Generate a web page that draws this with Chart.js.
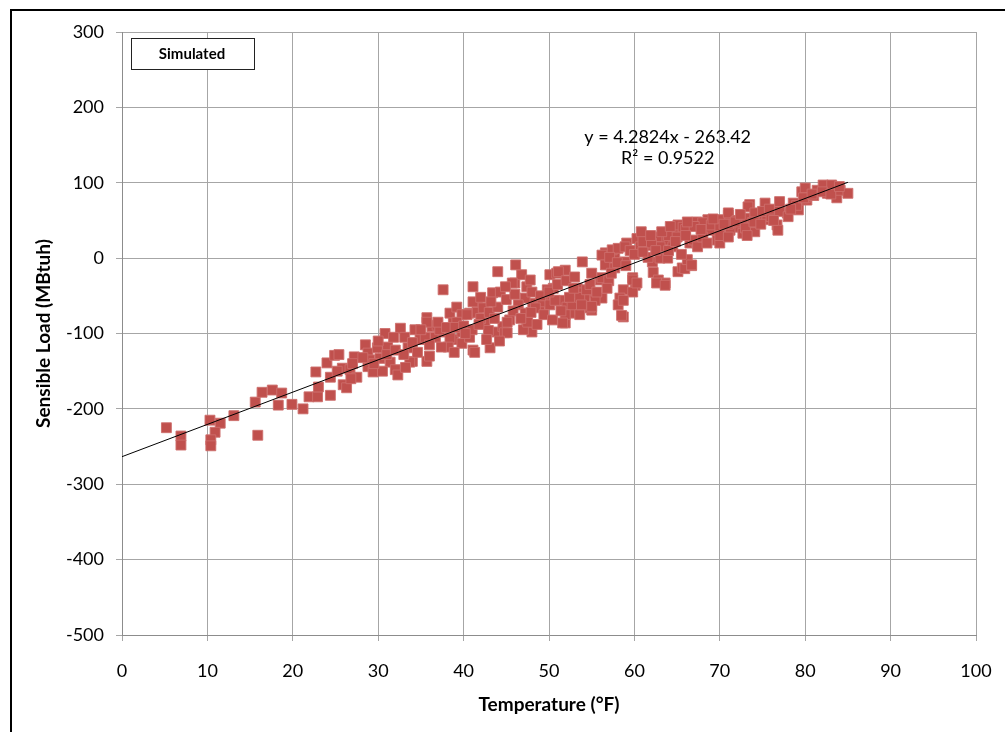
<!DOCTYPE html>
<html>
<head>
<meta charset="utf-8">
<title>Sensible Load vs Temperature</title>
<script src="https://cdn.jsdelivr.net/npm/chart.js@4.4.0/dist/chart.umd.min.js"></script>
<style>
    html, body { margin: 0; padding: 0; background: #fff; }
    #wrap { width: 1005px; height: 732px; position: relative; }
</style>
</head>
<body>
<div id="wrap"><canvas id="chart" width="1005" height="732"></canvas></div>
<script>
// daily points (°F, MBtuh)
const temperature = [
    5.2, 6.9, 6.9, 10.3, 11.5, 10.9, 10.4, 10.4, 13.1, 15.9, 15.6, 16.4, 17.6, 18.7, 18.3, 19.9,
    21.2, 21.9, 22.9, 23, 22.7, 24, 24.4, 24.4, 24.9, 25.4, 25.8, 25.9, 26.3, 27.2, 26.7, 27.5,
    28.5, 28.8, 28.8, 29.4, 29.9, 30.2, 30.8, 31.1, 31.4, 32, 32.3, 32.6, 33.1, 33.5, 34, 34.3,
    34.9, 35.7, 35.7, 36.3, 36.7, 37.6, 38.4, 38.8, 39.2, 39.8, 38.8, 39.8, 40.7, 41.1, 40.7, 41.6,
    37.6, 41.1, 44, 33.7, 36.9, 39.2, 39.8, 40.4, 41.1, 41.6, 41.3, 42.3, 42.5, 43.1, 43.4, 44.3,
    43.9, 44.6, 44.8, 35.7, 35.5, 37.2, 38.4, 38.2, 42.9, 45.4, 46, 46.8, 47.4, 47.4, 48, 47,
    48.1, 48.9, 49.5, 50.1, 50.9, 50.5, 49.8, 51.9, 51.3, 52.1, 52.8, 51.9, 53.3, 54, 54.4, 53.9,
    55, 56, 56.2, 56.6, 57.7, 46.1, 45.7, 47.8, 51.1, 56.2, 57.4, 58.1, 59.1, 60.3, 61.6, 62.8,
    63.9, 65, 56.6, 57.7, 58.9, 56.2, 59.8, 60.1, 58.7, 58.3, 58.1, 58.7, 59.8, 62.1, 62.2, 62.8,
    63.6, 63, 63.9, 65.1, 65.6, 54.2, 55.4, 54.8, 53.3, 52.7, 51.9, 51.6, 53.6, 49.2, 48.4, 47.2,
    46.4, 47.2, 47.5, 45.1, 45.1, 50.1, 50.7, 57.1, 58, 58.9, 60.7, 61.6, 63.8, 63, 64.5, 65.1,
    65.9, 66.5, 67.3, 68, 67.3, 68.6, 69.7, 70, 71, 72, 72.7, 73.5, 74.4, 74.1, 53.6, 54.4,
    55, 58.7, 58.5, 59.8, 60.3, 62.6, 63.6, 65.9, 66.7, 65.7, 66.9, 67.4, 68, 68.9, 70, 71,
    71.2, 73, 73.3, 73.8, 74.1, 75.3, 75.5, 76.7, 76.8, 77, 77.9, 78.6, 79.2, 79.6, 80, 80.2,
    81.4, 82.1, 82.6, 83.1, 83.7, 84.1, 85, 66.2, 66.7,
    61, 62, 64, 66, 67, 69, 70, 71, 72, 73, 74, 75, 76, 77, 78, 79,
    80, 81, 82, 83, 84, 59.5, 60, 61, 64, 65, 66, 68, 70, 71,
    27, 29, 30, 31, 32, 33, 34, 35, 36, 37, 38, 39, 40, 41, 42, 43,
    44, 45, 46, 48, 49, 50, 51, 52, 53, 55, 57, 59,
    40.2, 41.8, 42.7, 43.6, 44.2, 45.8, 46.7, 47.9, 48.6, 49.4, 50.4, 51.4, 52.4, 52.9, 53.8, 54.8,
    55.6, 56.8, 57.3, 44.9, 43.2, 42, 36, 37.4, 38.9, 34.6, 33.2, 31.8, 30.5, 29.5, 28.2, 26.8,
    25.2, 60.8, 61.9, 62.5, 63.2, 64.2, 64.8, 65.5, 66.2, 67.8, 68.5, 69.2, 70.5, 71.8, 72.4, 73.2,
    74.8, 75.8, 76.3, 78.3, 79.8, 80.8
];
const sensibleLoad = [
    -225, -236, -248, -215, -219, -231, -241, -249, -209, -235, -191, -178, -175, -179, -195, -194,
    -200, -184, -184, -171, -151, -139, -158, -182, -129, -128, -146, -168, -172, -131, -148, -158,
    -115, -126, -144, -151, -119, -133, -100, -118, -138, -148, -155, -93, -105, -119, -137, -95,
    -108, -79, -137, -91, -105, -98, -73, -86, -65, -75, -108, -113, -105, -122, -73, -62,
    -42, -38, -18, -138, -89, -85, -98, -75, -58, -72, -125, -66, -85, -119, -46, -45,
    -98, -91, -99, -85, -105, -95, -106, -118, -96, -82, -33, -22, -38, -82, -98, -95,
    -60, -65, -56, -22, -20, -40, -42, -16, -56, -65, -73, -86, -40, -52, -46, -5,
    -69, -29, -53, 7, 2, -9, -33, -29, -18, 4, 11, 13, 20, 26, 17, 28,
    27, 37, -9, -13, -5, -26, -26, -36, -42, -53, -62, -78, -45, -5, -19, -29,
    -33, 0, 0, -18, -13, -53, -56, -66, -46, -62, -75, -86, -75, -58, -66, -53,
    -62, -73, -85, -85, -99, -62, -56, 1, -6, 15, 15, 1, 24, 15, 15, 44,
    33, 20, 48, 33, 20, 51, 24, 20, 57, 41, 33, 71, 55, 35, -52, -42,
    -64, -56, -76, -29, -33, -33, -36, -14, -10, 41, 24, 15, 47, 37, 51, 60,
    37, 53, 68, 47, 60, 73, 51, 44, 37, 75, 60, 73, 64, 88, 93, 77,
    90, 97, 86, 97, 80, 90, 86, -2, -9,
    22, 20, 30, 38, 42, 44, 40, 45, 50, 40, 48, 62, 55, 62, 55, 70,
    80, 83, 88, 85, 95, 10, 5, 8, 10, 28, 30, 28, 30, 28,
    -140, -135, -110, -128, -122, -128, -112, -95, -115, -85, -92, -92, -90, -95, -80, -72,
    -65, -55, -48, -45, -50, -45, -35, -30, -25, -20, -30, -10,
    -100, -88, -108, -80, -110, -70, -80, -72, -88, -75, -82, -70, -52, -40, -62, -35,
    -45, -40, -20, -38, -58, -52, -130, -118, -125, -125, -145, -105, -150, -140, -132, -160,
    -150, 35, 30, 10, 35, 42, 22, 5, 48, 38, 20, 52, 45, 48, 58, 30,
    45, 65, 50, 65, 80, 85
];

const xTicks = [0, 10, 20, 30, 40, 50, 60, 70, 80, 90, 100];
const yTicks = [-500, -400, -300, -200, -100, 0, 100, 200, 300];

// linear trendline from the chart's own fit
const trendSlope = 4.2824;
const trendIntercept = -263.42;
const rSquared = 0.9522;
const trendFrom = 0;
const trendTo = 85;

const FONT = 'Lato, "Open Sans", sans-serif';
const gridColor = '#a6a6a6';

const points = temperature.map((t, i) => ({ x: t, y: sensibleLoad[i] }));
const trendPoints = [trendFrom, trendTo].map(t => ({ x: t, y: trendSlope * t + trendIntercept }));

const decorPlugin = {
    id: 'decor',
    afterDraw(chart) {
        const ctx = chart.ctx;
        const xs = chart.scales.x;
        const ys = chart.scales.y;
        ctx.save();

        // outer frame (only top and left edges fall inside the picture)
        ctx.strokeStyle = '#000';
        ctx.lineWidth = 2;
        ctx.beginPath();
        ctx.moveTo(11, 732);
        ctx.lineTo(11, 10);
        ctx.lineTo(1005, 10);
        ctx.stroke();

        // legend box
        ctx.lineWidth = 1;
        ctx.strokeStyle = '#222';
        ctx.fillStyle = '#fff';
        ctx.fillRect(131.5, 38.5, 123, 31);
        ctx.strokeRect(131.5, 38.5, 123, 31);
        ctx.fillStyle = '#000';
        ctx.font = 'bold 15px ' + FONT;
        ctx.textAlign = 'center';
        ctx.textBaseline = 'middle';
        ctx.fillText(chart.data.datasets[1].label, 192, 54);

        // trendline equation
        const sign = trendIntercept < 0 ? ' - ' : ' + ';
        ctx.font = '18px ' + FONT;
        const cx = xs.getPixelForValue(63.9);
        ctx.fillText('y = ' + trendSlope + 'x' + sign + Math.abs(trendIntercept), cx, ys.getPixelForValue(161));
        ctx.fillText('R² = ' + rSquared, cx, ys.getPixelForValue(132));
        ctx.restore();
    }
};

new Chart(document.getElementById('chart'), {
    type: 'scatter',
    data: {
        datasets: [{
            type: 'line',
            label: 'Linear (Simulated)',
            data: trendPoints,
            borderColor: '#000',
            borderWidth: 1,
            pointRadius: 0,
            fill: false,
            order: 0
        }, {
            label: 'Simulated',
            data: points,
            pointStyle: 'rect',
            pointRadius: 7,
            backgroundColor: '#c0504d',
            borderColor: 'rgba(205,110,107,0.9)',
            borderWidth: 1,
            order: 1
        }]
    },
    options: {
        responsive: false,
        animation: false,
        devicePixelRatio: 1,
        layout: { padding: { top: 32, right: 29, left: 0, bottom: 0 } },
        plugins: {
            legend: { display: false },
            tooltip: { enabled: false }
        },
        scales: {
            x: {
                type: 'linear',
                min: 0,
                max: 100,
                afterBuildTicks: s => { s.ticks = xTicks.map(v => ({ value: v })); },
                afterFit: s => {
                    s.height = 97;
                    s.paddingLeft = 0;
                    s.paddingRight = 0;
                },
                grid: { color: gridColor, tickLength: 6, tickColor: gridColor },
                border: { color: '#8c8c8c' },
                ticks: { color: '#000', font: { family: FONT, size: 18 }, padding: 19, maxRotation: 0 },
                title: {
                    display: true,
                    text: 'Temperature (°F)',
                    color: '#000',
                    font: { family: FONT, size: 19, weight: 'bold' },
                    padding: { top: 0, bottom: 16 }
                }
            },
            y: {
                type: 'linear',
                min: -500,
                max: 300,
                afterBuildTicks: s => { s.ticks = yTicks.map(v => ({ value: v })); },
                afterFit: s => { s.width = 122; },
                grid: { color: gridColor, tickLength: 6, tickColor: gridColor },
                border: { color: '#8c8c8c' },
                ticks: { color: '#000', font: { family: FONT, size: 18 }, padding: 12 },
                title: {
                    display: true,
                    text: 'Sensible Load (MBtuh)',
                    color: '#000',
                    font: { family: FONT, size: 19, weight: 'bold' },
                    padding: { top: 32, bottom: 0 }
                }
            }
        }
    },
    plugins: [decorPlugin]
});
</script>
</body>
</html>
